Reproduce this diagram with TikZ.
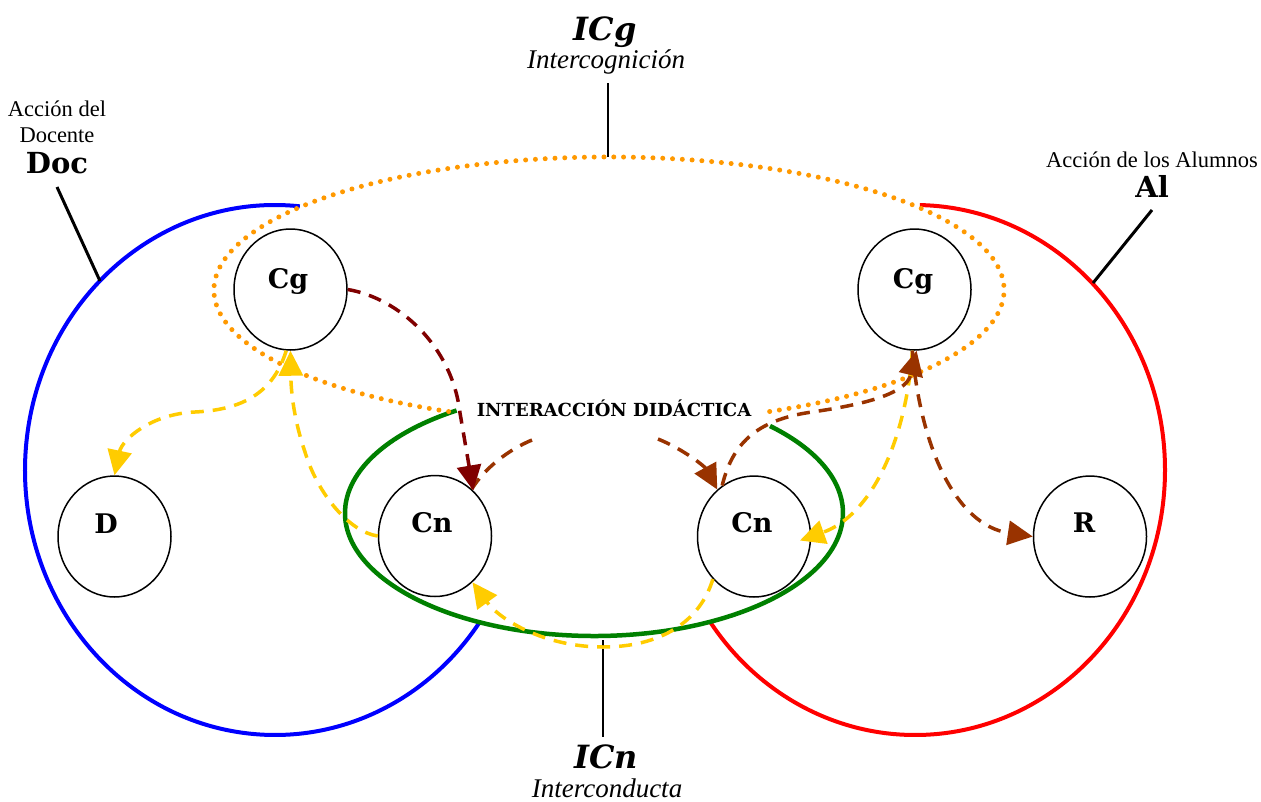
\documentclass[tikz,border=0pt]{standalone}
\usepackage{fontspec}
\setmainfont{Liberation Serif}
\newfontfamily\djv{DejaVu Serif}
\usetikzlibrary{arrows.meta,shapes.geometric}
\definecolor{cblue}{HTML}{0000FF}
\definecolor{cred}{HTML}{FF0000}
\definecolor{cgreen}{HTML}{008000}
\definecolor{corange}{HTML}{FF9900}
\definecolor{cmaroon}{HTML}{800000}
\definecolor{cbrown}{HTML}{993300}
\definecolor{cyellow}{HTML}{FFCC00}
\begin{document}
\begin{tikzpicture}[x=1pt,y=-1pt,
  nd/.style={ellipse,draw=black,line width=1.5pt,minimum width=113pt,minimum height=121pt,inner sep=0pt},
  lbl/.style={font=\djv\bfseries\fontsize{27}{29}\selectfont,anchor=base,inner sep=0pt},
  small/.style={font=\fontsize{22.5}{24}\selectfont,anchor=base,inner sep=0pt},
  ital/.style={font=\itshape\fontsize{27}{29}\selectfont,anchor=base,inner sep=0pt},
  bigbi/.style={font=\djv\bfseries\itshape\fontsize{32}{34}\selectfont,anchor=base,inner sep=0pt},
  bigb/.style={font=\djv\bfseries\fontsize{29}{31}\selectfont,anchor=base,inner sep=0pt},
  tip/.style={-{Triangle[length=25pt,width=24pt]}},
  dsh/.style={line width=3.5pt,dash pattern=on 13pt off 9pt},
  marr/.style={dsh,draw=cmaroon},
  brarr/.style={dsh,draw=cbrown},
  yarr/.style={dsh,draw=cyellow},
  dots/.style={draw=corange,line width=5pt,line cap=round,dash pattern=on 0pt off 9.8pt},
  thickline/.style={draw=black,line width=3pt},
  thinline/.style={draw=black,line width=1.6pt}
]
\useasboundingbox (0,0) rectangle (1261,801);
\fill[white] (0,0) rectangle (1261,801);

% big regions
\draw[cblue,line width=4pt] (275,470) ++(275.7:250 and 265) arc[start angle=275.7,end angle=35.3,x radius=250,y radius=265];
\draw[cred,line width=4pt] (915,470) ++(-88.9:250 and 265) arc[start angle=-88.9,end angle=145,x radius=250,y radius=265];
\draw[cgreen,line width=4.5pt] (594,513) ++(236.5:249 and 123) arc[start angle=236.5,end angle=-45,x radius=249,y radius=123];
\draw[dots] (609,290) ++(66:395 and 133) arc[start angle=66,end angle=-247,x radius=395,y radius=133];

% nodes
\node[nd] (cgL) at (290.5,289.5) {};
\node[nd] (cgR) at (914.5,289.5) {};
\node[nd] (dN) at (114.5,536.5) {};
\node[nd] (cnL) at (435,536) {};
\node[nd] (cnR) at (754,536.5) {};
\node[nd] (rN) at (1090,536.5) {};
\node[lbl] (cgLt) at (288,288) {Cg};
\node[lbl] (cgRt) at (913,288) {Cg};
\node[lbl] (dNt) at (106,533) {D};
\node[lbl] (cnLt) at (432,532) {Cn};
\node[lbl] (cnRt) at (752,532) {Cn};
\node[lbl] (rNt) at (1084,532) {R};

% texts
\node[bigbi] (icg) at (605,40) {ICg};
\node[ital] (icgs) at (606,68) {Intercognición};
\node[small] (doc1) at (57,116) {Acción del};
\node[small] (doc2) at (57,142) {Docente};
\node[bigb] (doc3) at (57,173) {Doc};
\node[small] (al1) at (1152,167) {Acción de los Alumnos};
\node[bigb] (al2) at (1152,197) {Al};
\node[bigbi] (icn) at (606,768) {ICn};
\node[ital] (icns) at (607,797) {Interconducta};
\node[font=\djv\bfseries\fontsize{18}{20}\selectfont,anchor=base,inner sep=0pt] (inter) at (614,416) {INTERACCIÓN DIDÁCTICA};

% label lines
\coordinate (docA) at (57,187);
\coordinate (docB) at (100,281);
\coordinate (alA) at (1152,210);
\coordinate (alB) at (1093,283);
\coordinate (icgA) at (608,83);
\coordinate (icgB) at (608,157);
\coordinate (icnA) at (603,640);
\coordinate (icnB) at (603,737);
\draw[thickline] (docA) -- (docB);
\draw[thickline] (alA) -- (alB);
\draw[thinline] (icgA) -- (icgB);
\draw[thinline] (icnA) -- (icnB);

% connector anchors
\coordinate (mcorner) at (460,413);
\coordinate (b1s) at (532,440);
\coordinate (b2s) at (658,439);
\coordinate (b3m) at (812,412);
\coordinate (y1m) at (195,412);
\coordinate (y2m) at (305,452);
\coordinate (y3m) at (603,647);

% yellow
\draw[yarr,tip] (cgL.266) .. controls (272,398) and (235,410) .. (y1m) .. controls (150,414) and (122,440) .. (dN.north);
\draw[yarr,tip] (cnL.west) .. controls (350,532) and (318,495) .. (y2m) .. controls (294,420) and (291,392) .. (cgL.south);
\draw[yarr,tip] (cnR.226) .. controls (700,622) and (660,647) .. (y3m) .. controls (545,647) and (500,620) .. (cnL.309);
\draw[yarr,tip,shorten >=-12pt] (cgR.268) .. controls (906,440) and (872,515) .. (cnR.east);

% brown
\draw[brarr] (b1s) .. controls (508,450) and (485,468) .. (cnL.52);
\draw[brarr,tip] (b2s) .. controls (685,450) and (705,467) .. (cnR.128);
\draw[brarr,tip] (cnR.122) .. controls (732,445) and (755,420) .. (b3m) .. controls (860,405) and (906,395) .. (cgR.272);
\draw[brarr,tip] (cgR.268) .. controls (920,445) and (955,525) .. (rN.west);

% maroon
\draw[marr,tip] (cgL.east) .. controls (398,298) and (452,345) .. (mcorner) -- (cnL.50);
\end{tikzpicture}
\end{document}
